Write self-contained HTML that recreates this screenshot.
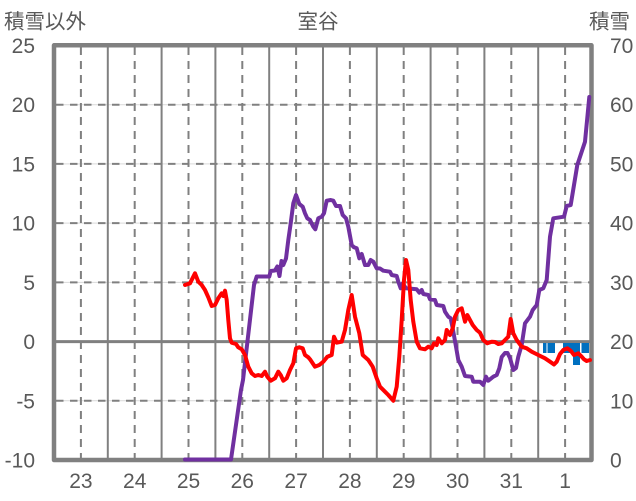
<!DOCTYPE html>
<html><head><meta charset="utf-8"><style>
html,body{margin:0;padding:0;background:#fff;}
svg{display:block;}
text{font-family:"Liberation Sans","Noto Sans CJK JP",sans-serif;fill:#595959;}
.cjk{font-family:"Noto Sans CJK JP","Liberation Sans",sans-serif;}
</style></head><body>
<svg width="636" height="501" viewBox="0 0 636 501" xmlns="http://www.w3.org/2000/svg">
<rect width="636" height="501" fill="#fff"/>
<!-- light horizontal grid -->
<g stroke="#d9d9d9" stroke-width="1">
<line x1="54" y1="104.7" x2="592" y2="104.7"/>
<line x1="54" y1="163.9" x2="592" y2="163.9"/>
<line x1="54" y1="223.1" x2="592" y2="223.1"/>
<line x1="54" y1="282.4" x2="592" y2="282.4"/>
<line x1="54" y1="400.8" x2="592" y2="400.8"/>
</g>
<!-- dashed horizontal grid -->
<g stroke="#808080" stroke-width="2" stroke-dasharray="7.5 6.5">
<line x1="56" y1="104.7" x2="592" y2="104.7"/>
<line x1="56" y1="163.9" x2="592" y2="163.9"/>
<line x1="56" y1="223.1" x2="592" y2="223.1"/>
<line x1="56" y1="282.4" x2="592" y2="282.4"/>
<line x1="56" y1="400.8" x2="592" y2="400.8"/>
</g>
<!-- solid vertical day boundaries -->
<g stroke="#808080" stroke-width="2">
<line x1="107.8" y1="45" x2="107.8" y2="460"/>
<line x1="161.6" y1="45" x2="161.6" y2="460"/>
<line x1="215.4" y1="45" x2="215.4" y2="460"/>
<line x1="269.2" y1="45" x2="269.2" y2="460"/>
<line x1="323" y1="45" x2="323" y2="460"/>
<line x1="376.8" y1="45" x2="376.8" y2="460"/>
<line x1="430.6" y1="45" x2="430.6" y2="460"/>
<line x1="484.4" y1="45" x2="484.4" y2="460"/>
<line x1="538.2" y1="45" x2="538.2" y2="460"/>
</g>
<!-- dashed vertical noon lines -->
<g stroke="#808080" stroke-width="2" stroke-dasharray="8 6">
<line x1="80.9" y1="47" x2="80.9" y2="460"/>
<line x1="134.7" y1="47" x2="134.7" y2="460"/>
<line x1="188.5" y1="47" x2="188.5" y2="460"/>
<line x1="242.3" y1="47" x2="242.3" y2="460"/>
<line x1="296.1" y1="47" x2="296.1" y2="460"/>
<line x1="349.9" y1="47" x2="349.9" y2="460"/>
<line x1="403.7" y1="47" x2="403.7" y2="460"/>
<line x1="457.5" y1="47" x2="457.5" y2="460"/>
<line x1="511.3" y1="47" x2="511.3" y2="460"/>
<line x1="565.1" y1="47" x2="565.1" y2="460"/>
</g>
<!-- zero line -->
<line x1="54" y1="341.6" x2="592" y2="341.6" stroke="#808080" stroke-width="3"/>
<!-- plot border -->
<rect x="54" y="45.3" width="537.5" height="414.7" fill="none" stroke="#808080" stroke-width="4.5" stroke-linejoin="round"/>
<!-- blue bars -->
<g fill="#0070C0">
<rect x="543" y="343" width="3.5" height="10"/>
<rect x="547.5" y="343" width="7.5" height="10"/>
<rect x="563" y="343" width="10" height="10"/>
<rect x="573" y="343" width="7" height="22"/>
<rect x="581.5" y="343" width="7.5" height="10"/>
</g>
<!-- purple line -->
<polyline fill="none" stroke="#7030A0" stroke-width="4" stroke-linejoin="round" stroke-linecap="round" points="185,459.5 231,459.5 241,390 243,380 254,285 256.7,276.5 269.3,276.5 270.7,271 275,270.5 277.3,266.5 279.5,276 281.5,261 283.3,265 286,258.5 288.3,240 290.7,223.3 293.3,203.3 296,195 299.3,204 302.7,206.7 305,213.3 307.3,218.3 310,220 313.3,226.7 315.3,229.3 318.3,218.3 321.7,216.7 324,213.3 326.7,200.7 330.7,200 333.3,200.7 336,206 340,206 342.7,215 346,218.3 348.3,226.7 351.7,245 354,247.3 356.7,248.3 359.3,258.3 361.7,254 365,265 368.3,265 370.7,260 373.3,261.7 376.7,268.3 380,268.5 383.3,270.7 390,271.7 391.7,275 396.7,276 398.3,281.7 400.7,288.3 402.7,283.3 406,288.3 416.7,289.3 419.3,292.7 421.7,290 423.3,294 428.3,295 430,299.3 435,300 436.7,305 443.3,306 445,311.7 448.3,316.7 450.7,318.3 452.7,328.3 456,346.7 458.3,360 461.7,366.7 465,376 471.7,376.7 473.3,381.7 480,381.7 483.3,385 486,376.7 488.3,380.7 493.3,376.7 496.7,375 499.3,368.3 501.7,357 505,353 507.5,353 510,358 513.3,370 516,368 518.3,356.7 521.7,345 525,323.3 530,316.7 532.7,310 536.7,305 539.3,290 543.3,288.3 546.7,280 550,236.7 553.3,218.3 564,216.7 566.7,206 570.7,205 577.3,165 585,141.7 589.3,97"/>
<!-- red line -->
<polyline fill="none" stroke="#FF0000" stroke-width="4" stroke-linejoin="round" stroke-linecap="round" points="185,285 190,283.3 195,273.3 198.3,281.7 201.7,285 205,290 208.3,297.3 211.7,306 215,305 218.3,298.3 221.7,293.3 223.3,296 225,290.7 226.7,300 228.3,320 230,338.3 231.7,342.7 236,344 238.3,347.3 241.7,349.3 245,355 248.3,366.7 251.7,373.3 255,376 258.3,375 261.7,376 265,371.7 267.3,376.7 270.7,380.7 275,378.3 278.3,371.7 280.7,375 283.3,380.7 286.7,378.3 290,370 293.3,363.3 296,348.3 299.3,347.3 302.7,348.3 305,355 308.3,357.3 310,359.3 315,366.7 319.3,365 323.3,361.7 327.3,356.7 331.7,355 334,336.7 336.7,342.7 341.7,341.7 345,330 348.3,310 351.7,295 355,316.7 359.3,333.3 362.7,355 368.3,360 372.7,366.7 376.7,378.3 380,386.7 385,391.7 388.3,395 393.3,400.7 396.7,386.7 399.3,356.7 401.7,320 404,280 406,260 408.3,270 410.7,300 413.3,321.7 416.7,341.7 420,348.3 425,349.3 428.3,346.7 431.7,348.3 434,343.3 436.7,345 438.3,338.3 441.7,343.3 445,340 446.7,330 450,335 452.7,328.3 455,316.7 458.3,310 461.7,308.3 465,321.7 467.3,315 470,320 472.7,325 476.7,330 480,332.7 483.3,340 487.3,343.3 491.7,341.7 495,342 498.3,344 501.7,343.3 505,340 508.3,336.7 510.7,319 513.3,333.3 516.7,340 521.7,346.7 526.7,348.3 531.7,351.7 538.3,355 545,358.3 550,361.7 554,364.5 556.7,361.7 560,354 563.3,350 567.3,348.3 570.7,350.7 574,355 578.3,353.3 581.7,356.7 584,359.3 586.7,361 590,360"/>
<!-- titles -->
<text class="cjk" x="4" y="28.5" font-size="20.5">積雪以外</text>
<text class="cjk" x="318" y="28.5" font-size="20.5" text-anchor="middle">室谷</text>
<text class="cjk" x="589" y="28.5" font-size="20.5">積雪</text>
<!-- left axis -->
<g font-size="21" text-anchor="end">
<text x="35" y="53">25</text>
<text x="35" y="112.2">20</text>
<text x="35" y="171.4">15</text>
<text x="35" y="230.6">10</text>
<text x="35" y="289.9">5</text>
<text x="35" y="349.1">0</text>
<text x="35" y="408.3">-5</text>
<text x="35" y="467.5">-10</text>
</g>
<!-- right axis -->
<g font-size="21" text-anchor="start">
<text x="610" y="53">70</text>
<text x="610" y="112.2">60</text>
<text x="610" y="171.4">50</text>
<text x="610" y="230.6">40</text>
<text x="610" y="289.9">30</text>
<text x="610" y="349.1">20</text>
<text x="610" y="408.3">10</text>
<text x="610" y="467.5">0</text>
</g>
<!-- x axis -->
<g font-size="21" text-anchor="middle">
<text x="80.9" y="488">23</text>
<text x="134.7" y="488">24</text>
<text x="188.5" y="488">25</text>
<text x="242.3" y="488">26</text>
<text x="296.1" y="488">27</text>
<text x="349.9" y="488">28</text>
<text x="403.7" y="488">29</text>
<text x="457.5" y="488">30</text>
<text x="511.3" y="488">31</text>
<text x="565.1" y="488">1</text>
</g>
</svg>
</body></html>
